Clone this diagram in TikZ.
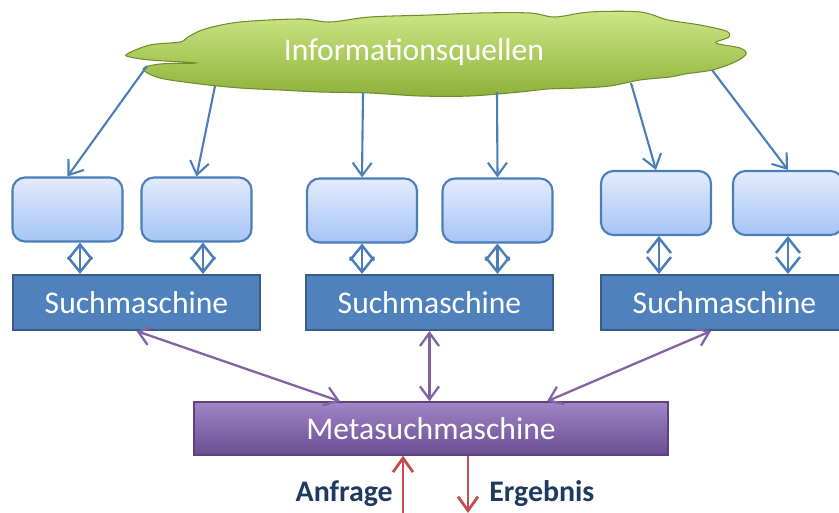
\documentclass[tikz,border=0pt]{standalone}
\usepackage{fontspec}
\setmainfont{Carlito}
\usepackage{xcolor}
\usepackage{tikz}
\usetikzlibrary{positioning,arrows.meta,shapes,calc}
\definecolor{cloudTop}{HTML}{CDE686}
\definecolor{cloudBottom}{HTML}{8CB23A}
\definecolor{cloudEdge}{HTML}{6F8C2F}
\definecolor{boxTop}{HTML}{E2ECFC}
\definecolor{boxBottom}{HTML}{A6C4F6}
\definecolor{boxEdge}{HTML}{4A7EBB}
\definecolor{smBlue}{HTML}{4F81BD}
\definecolor{smEdge}{HTML}{385D8A}
\definecolor{metaTop}{HTML}{A085C8}
\definecolor{metaBottom}{HTML}{6A4D92}
\definecolor{metaEdge}{HTML}{5C4476}
\definecolor{linkPurple}{HTML}{8064A2}
\definecolor{accentRed}{HTML}{C0504D}
\definecolor{labelBlue}{HTML}{1F3A60}

\begin{document}
\begin{tikzpicture}[x=0.02cm,y=-0.02cm,font=\fontsize{18pt}{22pt}\selectfont,
    quelle/.style={rounded corners=0.25cm,draw=boxEdge,line width=1.2pt,
      top color=boxTop,bottom color=boxBottom,minimum width=2.2cm,minimum height=1.28cm},
    suche/.style={draw=smEdge,line width=1.2pt,fill=smBlue,text=white,
      minimum width=4.94cm,minimum height=1.1cm},
    meta/.style={draw=metaEdge,line width=0.8pt,top color=metaTop,bottom color=metaBottom,
      text=white,minimum width=9.48cm,minimum height=1.06cm},
    zu/.style={boxEdge,line width=1.2pt,-{Straight Barb[length=2.6mm,width=3.8mm]}},
    hinundher/.style={boxEdge,line width=1.4pt,{Straight Barb[length=3mm,width=4.8mm]}-{Straight Barb[length=3mm,width=4.8mm]}},
    meta link/.style={linkPurple,line width=1.3pt,{Straight Barb[length=2.6mm,width=3.8mm]}-{Straight Barb[length=2.6mm,width=3.8mm]}},
    io/.style={accentRed,line width=1.6pt,-{Straight Barb[length=2.8mm,width=4mm]}},
    io label/.style={text=labelBlue,inner sep=0pt,font=\fontsize{17pt}{20pt}\selectfont\bfseries}]
    \useasboundingbox (0,0) rectangle (839,513);

    \draw[cloudEdge,line width=0.6pt,top color=cloudTop,bottom color=cloudBottom]
      plot[smooth cycle,tension=0.55] coordinates {
        (127,54) (150,45) (180,42) (188,37) (205,29) (240,22) (300,19) (330,22)
        (370,17) (430,15) (480,13) (530,13) (555,17) (590,12) (640,12) (668,20)
        (700,25) (726,31) (729,37) (716,43) (740,48) (746,54) (735,62) (712,70)
        (685,74) (670,77) (640,80) (610,86) (580,88) (548,89) (520,92) (470,96)
        (420,96) (370,93) (320,92) (280,90) (240,88) (200,84) (160,78) (143,69)
        (160,64) (196,63) (150,60) (130,57)};
    \node[text=white] (quellen) at (414,52) {Informationsquellen};

    \node[quelle] (box1) at (67.5,209.5) {};
    \node[quelle] (box2) at (196.5,209.5) {};
    \node[quelle] (box3) at (362,210.5) {};
    \node[quelle] (box4) at (497.5,210.5) {};
    \node[quelle] (box5) at (656,203) {};
    \node[quelle] (box6) at (788,203) {};

    \node[suche] (sm1) at (136.5,302.5) {Suchmaschine};
    \node[suche] (sm2) at (429.5,302.5) {Suchmaschine};
    \node[suche] (sm3) at (724.5,302.5) {Suchmaschine};

    \node[meta] (meta) at (431,428.5) {Metasuchmaschine};

    \coordinate (w1) at (147,66);
    \coordinate (w2) at (215,86);
    \coordinate (w3) at (363,93);
    \coordinate (w4) at (497,92);
    \coordinate (w5) at (631,83);
    \coordinate (w6) at (712,70);
    \draw[zu] (w1) -- (box1.north);
    \draw[zu] (w2) -- (box2.north);
    \draw[zu] (w3) -- (box3.north);
    \draw[zu] (w4) -- (box4.north);
    \draw[zu] (w5) -- (box5.north);
    \draw[zu] (w6) -- (box6.north);

    \draw[hinundher] ([xshift=0.25cm]box1.south) -- ([xshift=0.25cm]box1.south |- sm1.north);
    \draw[hinundher] ([xshift=0.13cm]box2.south) -- ([xshift=0.13cm]box2.south |- sm1.north);
    \draw[hinundher] (box3.south) -- (box3.south |- sm2.north);
    \draw[hinundher] (box4.south) -- (box4.south |- sm2.north);
    \draw[hinundher] ([xshift=0.06cm]box5.south) -- ([xshift=0.06cm]box5.south |- sm3.north);
    \draw[hinundher] (box6.south) -- (box6.south |- sm3.north);

    \draw[meta link] (sm1.south) -- ([xshift=-1.82cm]meta.north);
    \draw[meta link] (sm2.south) -- (sm2.south |- meta.north);
    \draw[meta link] ([xshift=-0.27cm]sm3.south) -- ([xshift=2.32cm]meta.north);

    \coordinate (anfrage in) at (403,513);
    \coordinate (ergebnis out) at (468,513);
    \draw[io] (anfrage in) -- (anfrage in |- meta.south);
    \draw[io] (ergebnis out |- meta.south) -- (ergebnis out);
    \node[io label,anchor=east] (anfrage) at (393,494) {Anfrage};
    \node[io label,anchor=west] (ergebnis) at (489,494) {Ergebnis};
\end{tikzpicture}
\end{document}
